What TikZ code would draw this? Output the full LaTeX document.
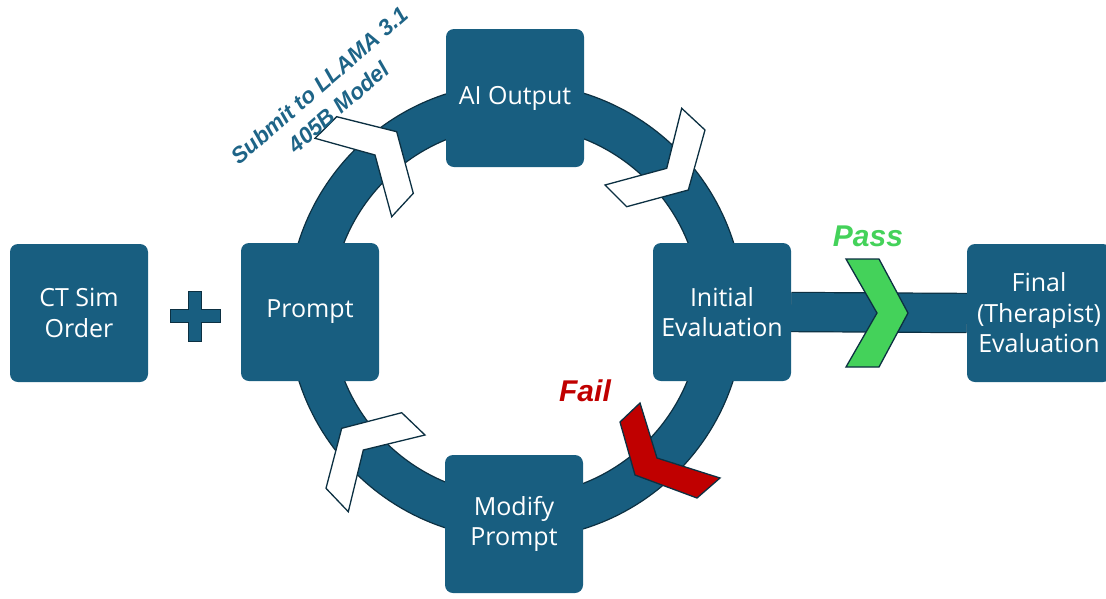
\documentclass[tikz,border=0pt]{standalone}
\usepackage{fontspec}
\setmainfont{Open Sans}
\newfontfamily\labelfont{Liberation Sans}
\usetikzlibrary{backgrounds,calc}
\definecolor{boxcol}{RGB}{24,94,128}
\definecolor{edgecol}{RGB}{12,48,66}
\definecolor{passcol}{RGB}{68,210,90}
\definecolor{failcol}{RGB}{192,0,0}
\definecolor{lblcol}{RGB}{30,100,135}
\tikzset{
  stepbox/.style={fill=boxcol, rounded corners=8pt, minimum width=138pt, minimum height=138pt,
    text=white, align=center, inner sep=0pt, font=\fontsize{25}{30.5}\selectfont},
  chev/.style={draw=edgecol, line width=1.3pt, line join=miter},
  biglabel/.style={font=\labelfont\bfseries\itshape\fontsize{30}{34}\selectfont},
}
\begin{document}
\begin{tikzpicture}[x=1pt,y=-1pt]
\useasboundingbox (0,0) rectangle (1106,598);
% nodes
\node[stepbox] (ct) at (79,313) {CT Sim\\Order};
\node[stepbox] (prompt) at (310,312) {Prompt};
\node[stepbox] (ai) at (515,98) {AI Output};
\node[stepbox] (init) at (722,312) {Initial\\Evaluation};
\node[stepbox] (mod) at (514,524) {Modify\\Prompt};
\node[stepbox, minimum width=144pt] (final) at (1039,313) {Final\\(Therapist)\\Evaluation};
\coordinate (c) at (516,311);
\begin{pgfonlayer}{background}
  \fill[boxcol, even odd rule, draw=edgecol, line width=1.2pt] (c) circle[radius=228pt] (c) circle[radius=185pt];
  \draw[draw=edgecol, double=boxcol, double distance=38pt, line width=1.2pt] (init.east) -- (final.west);
\end{pgfonlayer}
% plus sign
\node[inner sep=0pt] (plus) at (195,316) {};
\draw[chev, fill=boxcol, line width=1pt] ($(plus)+(-25,-6.5)$) -- ++(18.5,0) -- ++(0,-18.5) -- ++(13,0) -- ++(0,18.5) -- ++(18.5,0) -- ++(0,13) -- ++(-18.5,0) -- ++(0,18.5) -- ++(-13,0) -- ++(0,-18.5) -- ++(-18.5,0) -- cycle;
% chevrons
\draw[chev, fill=white] (336.7,116.7) -- (396.7,131.7) -- (413.3,193.3) -- (391.7,216.7) -- (375,155) -- (315,138.3) -- cycle;
\draw[chev, fill=white] (681.7,108.3) -- (705,130) -- (688.3,190) -- (626.7,206.7) -- (605,185) -- (666.7,168.3) -- cycle;
\draw[chev, fill=white] (401.7,412.7) -- (425,435) -- (363.3,450) -- (348.3,511.7) -- (326,488.3) -- (341.7,428.3) -- cycle;
\draw[chev, fill=failcol] (620,422) -- (640,403) -- (657,458) -- (720,478) -- (697,498) -- (635,475) -- cycle;
\draw[chev, fill=passcol] (846,259) -- (879,259) -- (908,313) -- (879,367) -- (846,367) -- (877,313) -- cycle;
% labels
\node[biglabel, text=passcol] (pass) at (868,236) {Pass};
\node[biglabel, text=failcol] (fail) at (585,391) {Fail};
\node[font=\labelfont\bfseries\itshape\fontsize{22.5}{27}\selectfont, text=lblcol, rotate=41, align=center] (submit) at (329,96) {Submit to LLAMA 3.1\\[2pt]405B Model};
\end{tikzpicture}
\end{document}
